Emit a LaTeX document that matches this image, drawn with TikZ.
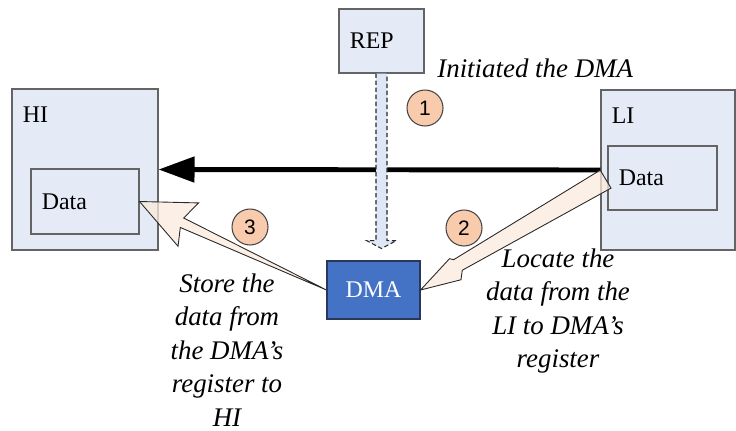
\documentclass[tikz,border=0pt]{standalone}
\usepackage{fontspec}
\setmainfont{Liberation Serif}
\setsansfont{Liberation Sans}
\usepackage{xcolor}
\usetikzlibrary{arrows.meta, positioning, calc}

\definecolor{boxFill}{RGB}{229,235,246}
\definecolor{boxLine}{RGB}{100,100,100}
\definecolor{dmaFill}{RGB}{68,114,196}
\definecolor{dmaLine}{RGB}{40,55,90}
\definecolor{markFill}{RGB}{248,203,173}
\definecolor{markLine}{RGB}{70,70,70}
\definecolor{moveFill}{RGB}{251,234,220}
\definecolor{ctrlFill}{RGB}{222,231,245}
\definecolor{arrowLine}{RGB}{40,40,40}

\newcommand{\boxFont}{\fontsize{13.6}{16}\selectfont}
\newcommand{\noteFont}{\fontsize{15.3}{19}\selectfont\itshape}
\newcommand{\markFont}{\fontsize{11.9}{14}\selectfont\sffamily}

\begin{document}
\begin{tikzpicture}[
  x=0.02cm, y=-0.02cm,
  baseBox/.style={rectangle, draw=boxLine, line width=0.6pt, inner sep=0pt},
  hostBox/.style={baseBox, fill=boxFill},
  dmaBox/.style={baseBox, draw=dmaLine, fill=dmaFill, text=white, font=\boxFont},
  boxText/.style={inner sep=0pt, font=\boxFont},
  stepMark/.style={circle, draw=markLine, fill=markFill, line width=0.6pt, minimum size=0.72cm, inner sep=0pt, font=\markFont},
  note/.style={inner sep=0pt, align=center, font=\noteFont},
  dataFlow/.style={line width=2.8pt, -{Triangle[length=0.72cm, width=0.5cm]}},
  ctrlArrow/.style={draw=arrowLine, fill=ctrlFill, line width=0.6pt, dash pattern=on 2.5pt off 1.5pt},
  moveArrow/.style={draw=arrowLine, fill=moveFill, fill opacity=0.75, line width=0.5pt}
]
\useasboundingbox (0,0) rectangle (736,430);

% boxes
\node[hostBox, minimum width=2.92cm, minimum height=3.22cm] (hi) at (85,169.5) {};
\node[hostBox, minimum width=2.16cm, minimum height=1.3cm] (hiData) at (85,201.5) {};
\node[hostBox, minimum width=2.68cm, minimum height=3.2cm] (li) at (668,170) {};
\node[hostBox, minimum width=2.18cm, minimum height=1.28cm] (liData) at (662.5,178) {};
\node[hostBox, minimum width=1.7cm, minimum height=1.28cm] (rep) at (381.5,41) {};
\node[dmaBox, minimum width=1.86cm, minimum height=1.16cm] (dma) at (373.5,290) {DMA};

\node[boxText, below right=0.36cm and 0.22cm of hi.north west] (hiName) {HI};
\node[boxText, below right=0.36cm and 0.22cm of li.north west] (liName) {LI};
\node[boxText, right=0.22cm of hiData.west] (hiDataName) {Data};
\node[boxText, right=0.22cm of liData.west] (liDataName) {Data};
\node[boxText, right=0.22cm of rep.west] (repName) {REP};

% data path LI -> HI
\draw[dataFlow] (li.west) -- (hi.east);

% step 1: REP starts the DMA
\coordinate (repTip) at ($(rep.south)+(0,175)$);
\path[ctrlArrow] ($(rep.south)+(-5.5,0)$) -- ($(repTip)+(-5.5,-8)$) -- ($(repTip)+(-15,-8)$)
  -- (repTip) -- ($(repTip)+(15,-8)$) -- ($(repTip)+(5.5,-8)$) -- ($(rep.south)+(5.5,0)$);

% step 2: LI data -> DMA
\path[moveArrow] ($(dma.east)!0.99!(liData.west)!0.21cm!90:(liData.west)$)
  -- ($(dma.east)!0.88cm!(liData.west)!0.18cm!90:(liData.west)$)
  -- ($(dma.east)!0.82cm!(liData.west)!0.24cm!90:(liData.west)$)
  -- (dma.east)
  -- ($(dma.east)!0.80cm!(liData.west)!0.24cm!-90:(liData.west)$)
  -- ($(dma.east)!0.92cm!(liData.west)!0.09cm!-90:(liData.west)$)
  -- ($(dma.east)!0.99!(liData.west)!0.21cm!-90:(liData.west)$)
  -- cycle;

% step 3: DMA -> HI data
\path[moveArrow] (hiData.east)
  -- ($(hiData.east)!1.08cm!(dma.west)!0.48cm!90:(dma.west)$)
  -- ($(hiData.east)!0.94cm!(dma.west)!0.08cm!90:(dma.west)$)
  -- (dma.west)
  -- ($(hiData.east)!0.96cm!(dma.west)!0.12cm!-90:(dma.west)$)
  -- ($(hiData.east)!1.08cm!(dma.west)!0.48cm!-90:(dma.west)$)
  -- cycle;

\node[stepMark] (stepOne) at (425,108) {1};
\node[stepMark] (stepTwo) at (464,228) {2};
\node[stepMark] (stepThree) at (250,227) {3};

\node[note, anchor=west] (initNote) at (437,68) {Initiated the DMA};
\node[note] (locateNote) at (558,311) {Locate the\\data from the\\LI to DMA's\\register};
\node[note] (storeNote) at (227,350) {Store the\\data from\\the DMA's\\register to\\HI};
\end{tikzpicture}
\end{document}
